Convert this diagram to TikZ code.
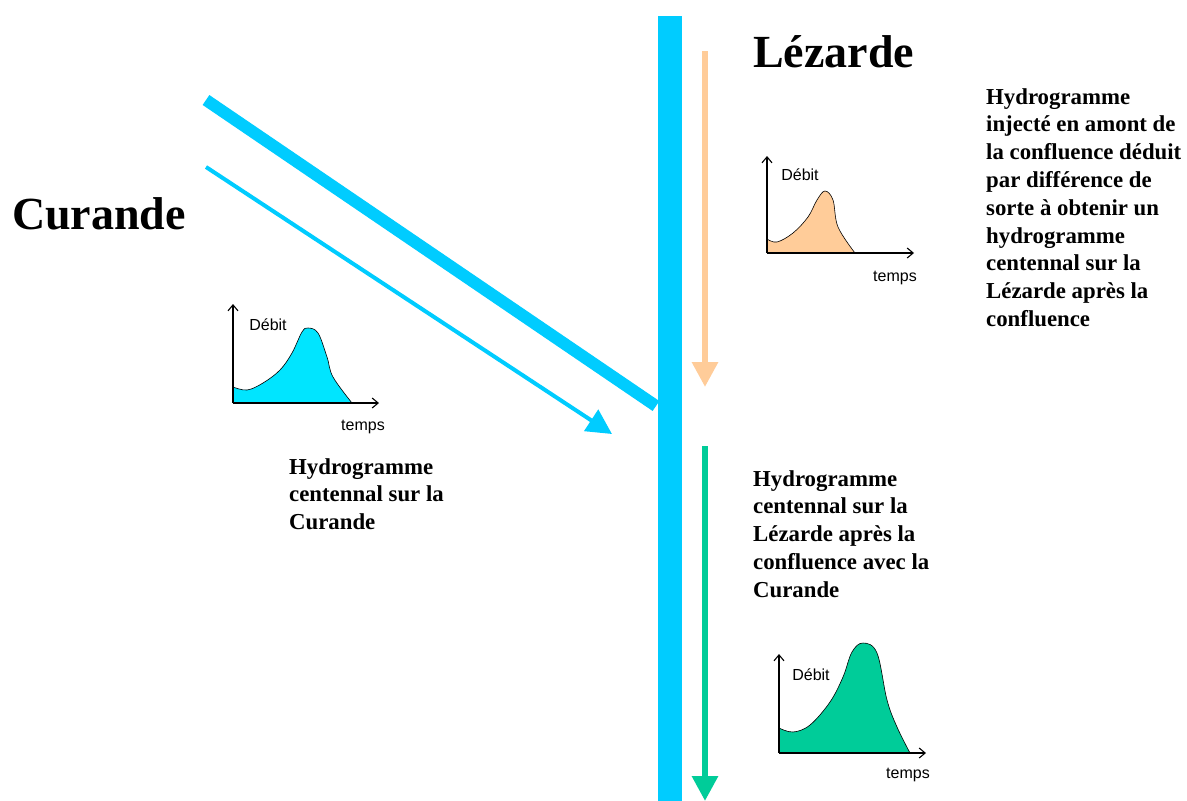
\documentclass[tikz,border=0pt]{standalone}
\usepackage{fontspec}
\setmainfont{Liberation Serif}
\newfontfamily\arialfont{Liberation Sans}
\usetikzlibrary{arrows.meta}
\definecolor{riverblue}{HTML}{00CCFF}
\definecolor{curfill}{HTML}{00E5FF}
\definecolor{lezorange}{HTML}{FFCC99}
\definecolor{lezgreen}{HTML}{00CC99}
\begin{document}
\begin{tikzpicture}[x=1pt,y=-1pt,
  title/.style={font=\fontsize{46}{54}\selectfont\bfseries, inner sep=0, anchor=base west},
  body/.style={font=\fontsize{22.8}{27.8}\selectfont\bfseries, inner sep=0, anchor=north west, align=left},
  axislabel/.style={font=\arialfont\fontsize{16}{19}\selectfont, inner sep=0},
  axis/.style={line width=1.1pt, -{Straight Barb[length=6pt,width=10pt]}},
  curveline/.style={line width=0.6pt, black},
  flow/.style={-{Triangle[length=25pt,width=25pt]}}]
\path[use as bounding box, fill=white] (0,0) rectangle (1187,801);

% coordinates of the flows
\coordinate (barTop) at (658,16);
\coordinate (barBot) at (682,801);
\coordinate (thickA) at (206,100);
\coordinate (thickB) at (656,406);
\coordinate (thinA) at (206,167);
\coordinate (thinB) at (612,434);
\coordinate (orA) at (705,51);
\coordinate (orB) at (705,387);
\coordinate (grA) at (705,446);
\coordinate (grB) at (705,801);

% Lezarde main channel
\fill[riverblue] (barTop) rectangle (barBot);
% Curande channel
\draw[riverblue, line width=12pt] (thickA) -- (thickB);
\draw[riverblue, line width=4pt, -{Triangle[length=25pt,width=25pt]}] (thinA) -- (thinB);
% Lezarde flows
\draw[lezorange, line width=6pt, flow] (orA) -- (orB);
\draw[lezgreen, line width=6pt, flow] (grA) -- (grB);

% titles
\node[title] (tCur) at (12,229) {Curande};
\node[title] (tLez) at (753,67) {Lézarde};

% text blocks
\node[body] (bRight) at (986,88) {Hydrogramme\\injecté en amont de\\la confluence déduit\\par différence de\\sorte à obtenir un\\hydrogramme\\centennal sur la\\Lézarde après la\\confluence};
\node[body] (bCur) at (289,458) {Hydrogramme\\centennal sur la\\Curande};
\node[body] (bLow) at (753,470) {Hydrogramme\\centennal sur la\\Lézarde après la\\confluence avec la\\Curande};

% chart Curande
\fill[curfill] (352,403) -- (233,403) -- plot[smooth, tension=0.6] coordinates {(233,387) (247,390) (263,383) (280,370) (292,353) (302,332) (308,328) (318,333) (327,357) (333,377) (352,403)} -- cycle;
\draw[curveline] plot[smooth, tension=0.6] coordinates {(233,387) (247,390) (263,383) (280,370) (292,353) (302,332) (308,328) (318,333) (327,357) (333,377) (352,403)};
\coordinate (c1o) at (233,403);
\coordinate (c1y) at (233,304);
\coordinate (c1x) at (379,403);
\draw[axis] (c1o) -- (c1y);
\draw[axis] (c1o) -- (c1x);
\node[axislabel] (c1d) at (268,325) {Débit};
\node[axislabel] (c1t) at (363,427) {temps};

% chart Lezarde upstream
\fill[lezorange] (855,253) -- (767,253) -- plot[smooth, tension=0.6] coordinates {(767,239) (777,242) (793,233) (808,217) (817,200) (825,191) (833,200) (838,227) (855,253)} -- cycle;
\draw[curveline] plot[smooth, tension=0.6] coordinates {(767,239) (777,242) (793,233) (808,217) (817,200) (825,191) (833,200) (838,227) (855,253)};
\coordinate (c2o) at (767,253);
\coordinate (c2y) at (767,156);
\coordinate (c2x) at (914,253);
\draw[axis] (c2o) -- (c2y);
\draw[axis] (c2o) -- (c2x);
\node[axislabel] (c2d) at (800,175) {Débit};
\node[axislabel] (c2t) at (895,278) {temps};

% chart Lezarde downstream
\fill[lezgreen] (910,753) -- (779,753) -- plot[smooth, tension=0.6] coordinates {(779,728) (793,732) (810,725) (830,702) (843,677) (852,652) (863,643) (877,653) (887,700) (897,727) (910,753)} -- cycle;
\draw[curveline] plot[smooth, tension=0.6] coordinates {(779,728) (793,732) (810,725) (830,702) (843,677) (852,652) (863,643) (877,653) (887,700) (897,727) (910,753)};
\coordinate (c3o) at (779,753);
\coordinate (c3y) at (779,654);
\coordinate (c3x) at (926,753);
\draw[axis] (c3o) -- (c3y);
\draw[axis] (c3o) -- (c3x);
\node[axislabel] (c3d) at (811,675) {Débit};
\node[axislabel] (c3t) at (908,775) {temps};
\end{tikzpicture}
\end{document}
